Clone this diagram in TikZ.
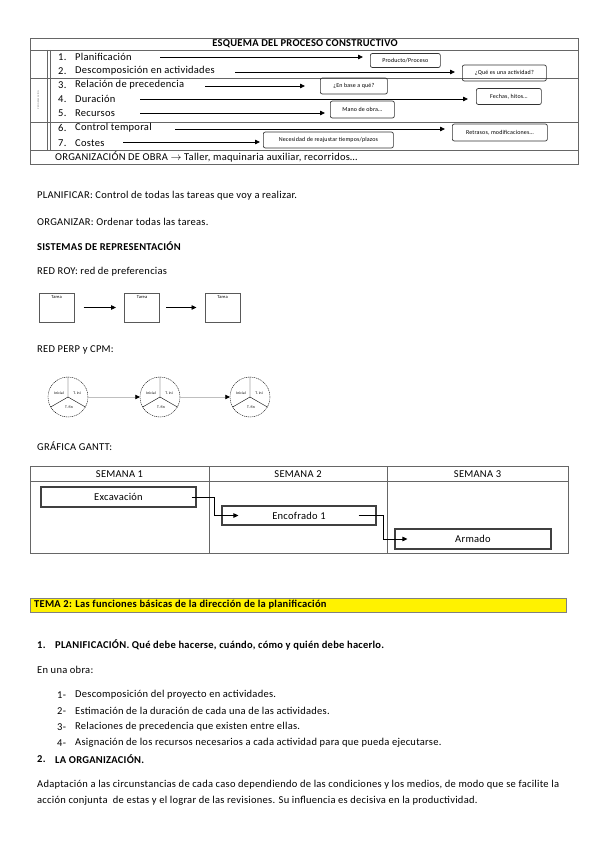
\documentclass[tikz,border=0pt]{standalone}
\usepackage{fontspec}
\setmainfont{Carlito}[LetterSpace=2.5]
\usetikzlibrary{
	arrows.meta,
	calc,
	positioning,
	shapes,
}
\tikzset{
	body text/.style={anchor=west, inner sep=0pt, font=\fontsize{10.5}{12}\selectfont},
	bold text/.style={anchor=west, inner sep=0pt, font=\fontsize{10.5}{12}\selectfont\bfseries},
	grid line/.style={draw=black!60, line width=0.6pt},
	note box/.style={draw=black!80, rounded corners=2pt, anchor=west, inner sep=0pt,
		font=\fontsize{6}{7}\selectfont, line width=0.7pt},
	flow arrow/.style={-{Triangle[length=5pt,width=4.5pt]}, line width=0.8pt},
	tarea box/.style={draw=black!65, line width=1pt, minimum width=35pt,
		minimum height=29pt, inner sep=0pt},
	pert node/.style={circle, draw, dash pattern=on 1.2pt off 0.8pt, line width=0.4pt,
		minimum size=40pt, inner sep=0pt},
	pert label/.style={font=\fontsize{3.8}{4}\selectfont, inner sep=0pt},
	pert link/.style={draw=black!25, line width=0.5pt,
		-{Triangle[length=4.5pt,width=4.5pt,color=black]}},
	gantt bar/.style={draw=black!75, line width=1.1pt, inner sep=0pt,
		font=\fontsize{10.5}{12}\selectfont},
	tema bar/.style={anchor=west, fill=yellow, draw=black!50, text width=528pt,
		inner xsep=4pt, inner ysep=0pt, minimum height=14pt, align=flush left,
		font=\fontsize{10.5}{12}\selectfont\bfseries},
}

\begin{document}
\begin{tikzpicture}[x=1pt,y=-1pt]
\useasboundingbox (0,0) rectangle (599,848);

% esquema del proceso constructivo
\draw[grid line] (30,38) rectangle (578,164);
\draw[grid line] (30,50) -- (578,50) (30,78) -- (578,78)
	(30,122) -- (578,122) (30,150) -- (578,150);
\draw[grid line] (47,50) -- (47,150) (50,50) -- (50,150);
\node[font=\fontsize{10.5}{12}\selectfont\bfseries] (titulo) at (305,44) {ESQUEMA DEL PROCESO CONSTRUCTIVO};
\node[rotate=90, font=\fontsize{2.5}{3}\selectfont, text=black!50, inner sep=0pt] (prog) at (38,100) {PROGRAMACIÓN};

\foreach[count=\i] \y/\t in {
	57/Planificación
	,71/Descomposición en actividades
	,85/Relación de precedencia
	,99/Duración
	,113/Recursos
	,128/Control temporal
	,143/Costes
}{
	\node[body text] (n\i) at (58,\y) {\i.};
	\node[body text] (r\i) at (75,\y) {\t};
}

\node[note box, minimum width=70pt, minimum height=14pt] (p1) at (370,60.5) {Producto/Proceso};
\node[note box, minimum width=84pt, minimum height=16pt] (p2) at (462,73) {¿Qué es una actividad?};
\node[note box, minimum width=67pt, minimum height=16pt] (p3) at (320,86) {¿En base a qué?};
\node[note box, minimum width=65pt, minimum height=16pt] (p4) at (476,96.5) {Fechas, hitos…};
\node[note box, minimum width=64pt, minimum height=17pt] (p5) at (330,109.5) {Mano de obra…};
\node[note box, minimum width=95pt, minimum height=17pt] (p6) at (452,132.5) {Retrasos, modificaciones…};
\node[note box, minimum width=130pt, minimum height=16pt] (p7) at (263,140) {Necesidad de reajustar tiempos/plazos};

\foreach \i/\x/\y/\g in {
	1/160/57/7
	,2/235/72/7
	,3/205/86/15
	,4/140/99/8
	,5/140/113/5
	,6/175/129/7
	,7/123/142/3
}{
	\coordinate (s\i) at (\x,\y);
	\draw[flow arrow] (s\i) -- ($(s\i -| p\i.west)+(-\g,0)$);
}

\node[body text] (orgobra) at (55,157) {ORGANIZACIÓN DE OBRA $\rightarrow$ Taller, maquinaria auxiliar, recorridos…};

% textos
\node[body text] (planif) at (37,196) {PLANIFICAR: Control de todas las tareas que voy a realizar.};
\node[body text] (organiz) at (37,222) {ORGANIZAR: Ordenar todas las tareas.};
\node[bold text] (sistemas) at (37,246) {SISTEMAS DE REPRESENTACIÓN};
\node[body text] (roy) at (37,272) {RED ROY: red de preferencias};

% red roy
\foreach[count=\i] \x in {56.5,142,222.5}{
	\node[tarea box, label={[anchor=north, inner sep=2.5pt, font=\fontsize{4.5}{5}\selectfont]north:Tarea}] (t\i) at (\x,307.5) {};
}
\draw[flow arrow, shorten <=9pt, shorten >=8pt] (t1) -- (t2);
\draw[flow arrow, shorten <=6pt, shorten >=8pt] (t2) -- (t3);

% red pert
\node[body text] (pert) at (37,350) {RED PERP y CPM:};
\foreach[count=\i] \x in {68,160,250}{
	\node[pert node] (c\i) at (\x,397) {};
	\draw[line width=0.4pt] (c\i.center) -- (c\i.north)
		(c\i.center) -- (c\i.210) (c\i.center) -- (c\i.330);
	\node[pert label] (c\i-a) at ($(c\i.center)+(-9,-4)$) {Inicial};
	\node[pert label] (c\i-b) at ($(c\i.center)+(9,-4)$) {T. ini};
	\node[pert label] (c\i-c) at ($(c\i.center)+(1,10)$) {T. fin};
}
\draw[pert link] (c1) -- (c2);
\draw[pert link] (c2) -- (c3);

% gantt
\node[body text] (gantt) at (37,446) {GRÁFICA GANTT:};
\draw[grid line] (30,466) rectangle (568,553);
\draw[grid line] (30,481) -- (568,481) (209,466) -- (209,553) (387,466) -- (387,553);
\foreach[count=\i] \x in {119.5,298,477.5}{
	\node[font=\fontsize{10.5}{12}\selectfont, inner sep=0pt] (w\i) at (\x,474) {SEMANA \i};
}
\node[gantt bar, minimum width=155pt, minimum height=20pt] (exc) at (118.5,497) {Excavación};
\node[gantt bar, minimum width=154pt, minimum height=19pt] (enc) at (299,515.5) {Encofrado 1};
\node[gantt bar, minimum width=156pt, minimum height=20pt] (arm) at (473,539) {Armado};
\draw[flow arrow] ([xshift=-5pt]exc.east) -- ++(23,0) |- ([xshift=17pt]enc.west);
\draw[flow arrow] ([xshift=-18pt]enc.east) -- ++(25,0) |- ([xshift=13pt]arm.west);

% tema 2
\node[tema bar] (tema) at (30,605) {TEMA 2: Las funciones básicas de la dirección de la planificación};
\node[bold text] (h1n) at (37,645) {1.};
\node[bold text] (h1) at (55,645) {PLANIFICACIÓN. Qué debe hacerse, cuándo, cómo y quién debe hacerlo.};
\node[body text] (obra) at (37,670) {En una obra:};
\foreach[count=\i] \y/\t in {
	695/Descomposición del proyecto en actividades.
	,711/Estimación de la duración de cada una de las actividades.
	,727/Relaciones de precedencia que existen entre ellas.
	,743/Asignación de los recursos necesarios a cada actividad para que pueda ejecutarse.
}{
	\node[body text] (l\i n) at (57,\y) {\i-};
	\node[body text] (l\i) at (75,\y) {\t};
}
\node[bold text] (h2n) at (37,759) {2.};
\node[bold text] (h2) at (55,759) {LA ORGANIZACIÓN.};
\node[body text] (par1) at (37,785) {Adaptación a las circunstancias de cada caso dependiendo de las condiciones y los medios, de modo que se facilite la};
\node[body text] (par2) at (37,801) {acción conjunta \ de estas y el lograr de las revisiones. Su influencia es decisiva en la productividad.};
\end{tikzpicture}
\end{document}
